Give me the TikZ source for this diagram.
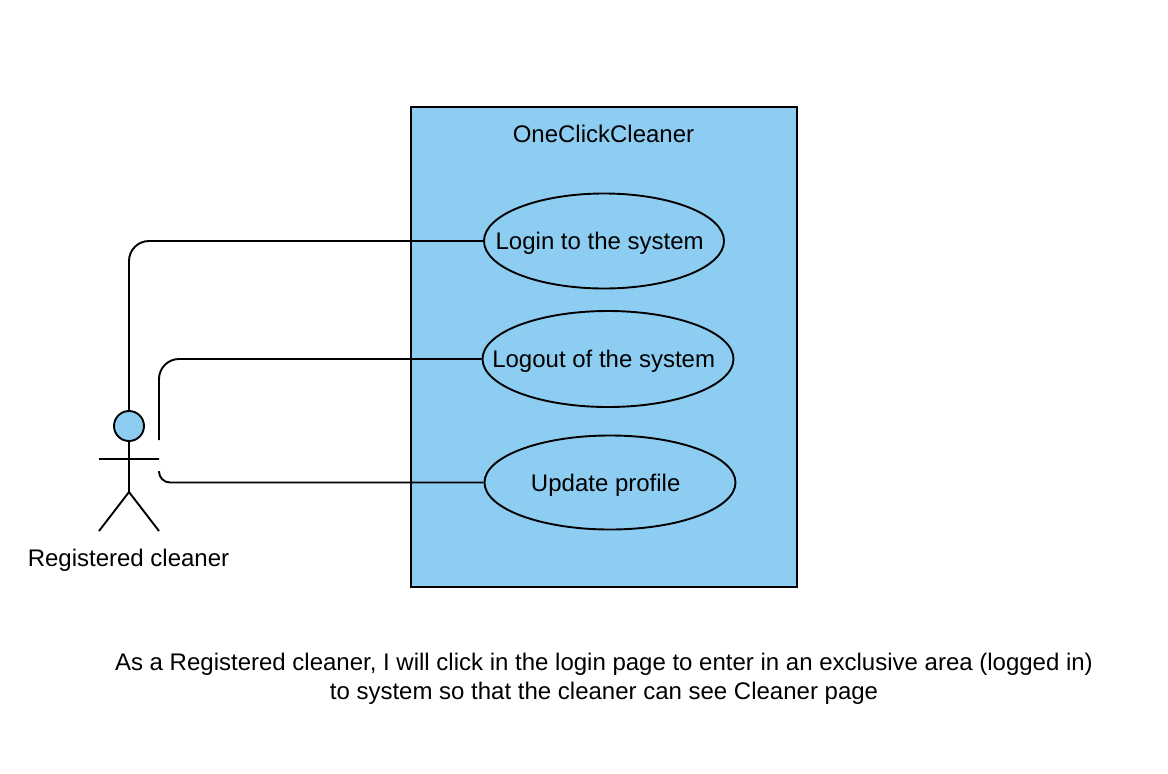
\documentclass[tikz,border=0pt]{standalone}
\usepackage{fontspec}
\setmainfont{Liberation Sans}
\usetikzlibrary{shapes.geometric}
\definecolor{skyfill}{HTML}{8DCDF2}
\tikzset{
  usecase/.style={ellipse, draw, fill=skyfill, inner sep=0pt},
  caseText/.style={xshift=-4.3pt, yshift=-2.5pt},
  link/.style={rounded corners=20pt},
}
\begin{document}
\begin{tikzpicture}[x=1pt, y=-1pt, line width=1.9pt, font=\fontsize{24}{29}\selectfont]
  \useasboundingbox (0,0) rectangle (1168,774);
  \node[draw, fill=skyfill, minimum width=386pt, minimum height=480pt, inner sep=0pt] (system) at (604,347) {};
  \node (title) at (603.5,134) {OneClickCleaner};
  \node[usecase, minimum width=240pt, minimum height=95pt, label={[caseText]center:Login to the system}] (login) at (604,241) {};
  \node[usecase, minimum width=251pt, minimum height=96pt, label={[caseText]center:Logout of the system}] (logout) at (608,359) {};
  \node[usecase, minimum width=251pt, minimum height=94pt, label={[caseText]center:Update profile}] (update) at (610,482.5) {};
  % actor
  \node[circle, draw, fill=skyfill, minimum size=30pt, inner sep=0pt] (head) at (129,426) {};
  \coordinate (hip) at (129,492);
  \coordinate (armL) at (99,459);
  \coordinate (armR) at (159,459);
  \coordinate (legL) at (99,531);
  \coordinate (legR) at (159,531);
  \coordinate (upper) at (159,440);
  \coordinate (lower) at (159,471);
  \draw (head) -- (hip) (armL) -- (armR) (legL) -- (hip) -- (legR);
  \node (actor) at (128.5,560) {Registered cleaner};
  % links
  \draw[link] (login.west) -| (head.north);
  \draw[link] (logout.west) -| (upper);
  \draw[rounded corners=11pt] (update.west) -| (lower);
  \node[align=center] (story) at (604,678.5) {As a Registered cleaner, I will click in the login page to enter in an exclusive area (logged in)\\to system so that the cleaner can see Cleaner page};
\end{tikzpicture}
\end{document}
